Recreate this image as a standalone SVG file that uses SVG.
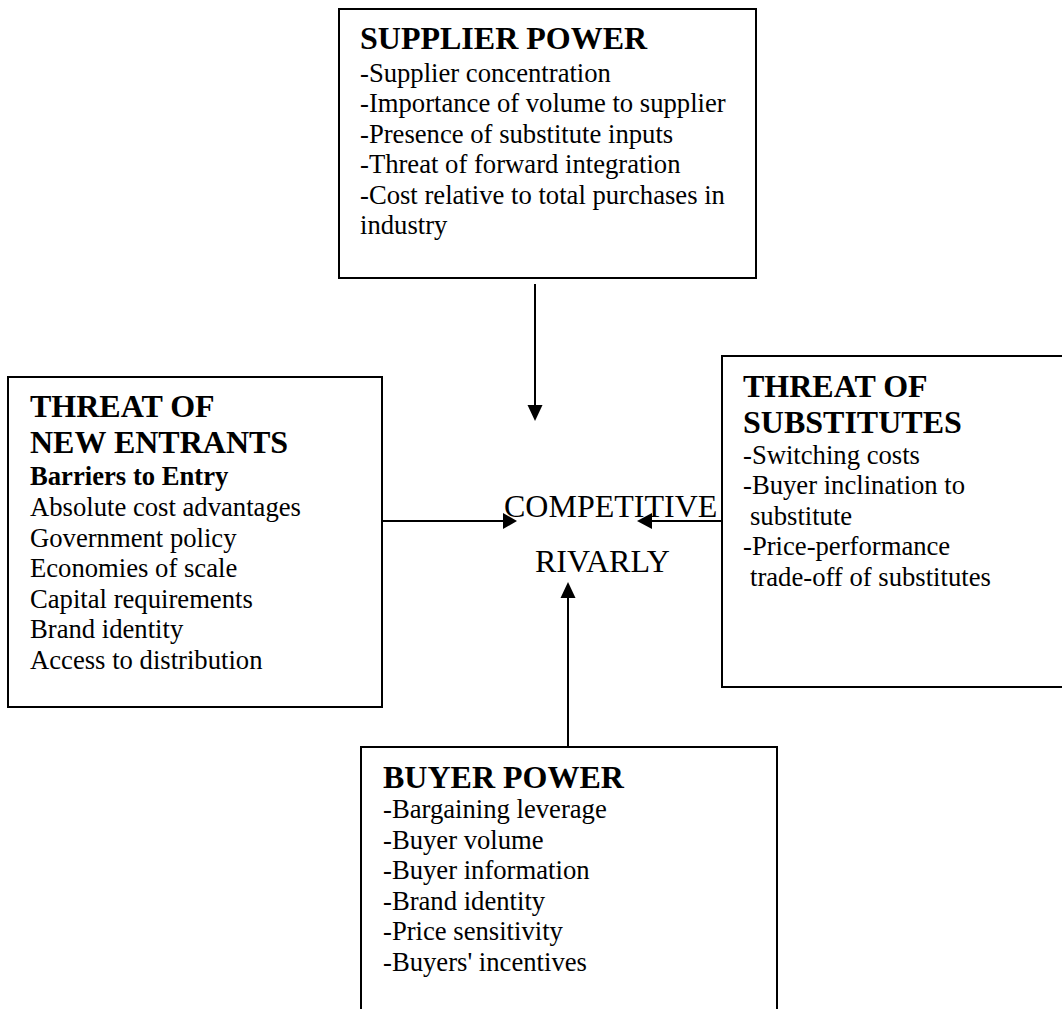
<svg xmlns="http://www.w3.org/2000/svg" width="1062" height="1009" viewBox="0 0 1062 1009">
  <style>
    .box { fill: #ffffff; stroke: #000000; stroke-width: 2; }
    .title { font-family: "Liberation Serif", "Times New Roman", serif; font-size: 32px; font-weight: bold; fill: #000000; }
    .sub { font-family: "Liberation Serif", "Times New Roman", serif; font-size: 26.67px; font-weight: bold; fill: #000000; }
    .item { font-family: "Liberation Serif", "Times New Roman", serif; font-size: 26.67px; fill: #000000; }
    .center { font-family: "Liberation Serif", "Times New Roman", serif; font-size: 32px; fill: #000000; }
    .conn { stroke: #000000; stroke-width: 2; fill: none; }
    .head { fill: #000000; }
  </style>
  <rect width="1062" height="1009" fill="#ffffff"/>

  <!-- Supplier power -->
  <g id="supplier-power">
    <rect class="box" x="339" y="9" width="417" height="269"/>
    <text class="title" x="360" y="49">SUPPLIER POWER</text>
    <text class="item" x="360" y="81.5">-Supplier concentration</text>
    <text class="item" x="360" y="112">-Importance of volume to supplier</text>
    <text class="item" x="360" y="142.5">-Presence of substitute inputs</text>
    <text class="item" x="360" y="173">-Threat of forward integration</text>
    <text class="item" x="360" y="203.5">-Cost relative to total purchases in</text>
    <text class="item" x="360" y="234">industry</text>
  </g>

  <!-- Threat of new entrants -->
  <g id="new-entrants">
    <rect class="box" x="8" y="377" width="374" height="330"/>
    <text class="title" x="30" y="417">THREAT OF</text>
    <text class="title" x="30" y="453">NEW ENTRANTS</text>
    <text class="sub" x="30" y="485">Barriers to Entry</text>
    <text class="item" x="30" y="516">Absolute cost advantages</text>
    <text class="item" x="30" y="546.5">Government policy</text>
    <text class="item" x="30" y="577">Economies of scale</text>
    <text class="item" x="30" y="607.5">Capital requirements</text>
    <text class="item" x="30" y="638">Brand identity</text>
    <text class="item" x="30" y="668.5">Access to distribution</text>
  </g>

  <!-- Threat of substitutes (runs off the right edge) -->
  <g id="substitutes">
    <rect class="box" x="722" y="356" width="360" height="331"/>
    <text class="title" x="743" y="397">THREAT OF</text>
    <text class="title" x="743" y="433">SUBSTITUTES</text>
    <text class="item" x="743" y="464">-Switching costs</text>
    <text class="item" x="743" y="494">-Buyer inclination to</text>
    <text class="item" x="750" y="525">substitute</text>
    <text class="item" x="743" y="555">-Price-performance</text>
    <text class="item" x="750" y="586">trade-off of substitutes</text>
  </g>

  <!-- Buyer power (runs off the bottom edge) -->
  <g id="buyer-power">
    <rect class="box" x="361" y="747" width="416" height="290"/>
    <text class="title" x="383" y="788">BUYER POWER</text>
    <text class="item" x="383" y="818">-Bargaining leverage</text>
    <text class="item" x="383" y="848.6">-Buyer volume</text>
    <text class="item" x="383" y="879.2">-Buyer information</text>
    <text class="item" x="383" y="909.8">-Brand identity</text>
    <text class="item" x="383" y="940.4">-Price sensitivity</text>
    <text class="item" x="383" y="971">-Buyers' incentives</text>
  </g>

  <!-- Competitive rivalry label -->
  <g id="rivalry">
    <text class="center" x="504" y="517">COMPETITIVE</text>
    <text class="center" x="535" y="572">RIVARLY</text>
  </g>

  <!-- Connectors -->
  <g id="connectors">
    <line class="conn" x1="535" y1="284" x2="535" y2="406"/>
    <polygon class="head" points="527.5,405 542.5,405 535,421"/>

    <line class="conn" x1="382" y1="521" x2="504" y2="521"/>
    <polygon class="head" points="503,513 503,529 517,521"/>

    <line class="conn" x1="722" y1="521" x2="651" y2="521"/>
    <polygon class="head" points="652,513 652,529 637,521"/>

    <line class="conn" x1="568" y1="747" x2="568" y2="597"/>
    <polygon class="head" points="560.5,598 575.5,598 568,582"/>
  </g>
</svg>
